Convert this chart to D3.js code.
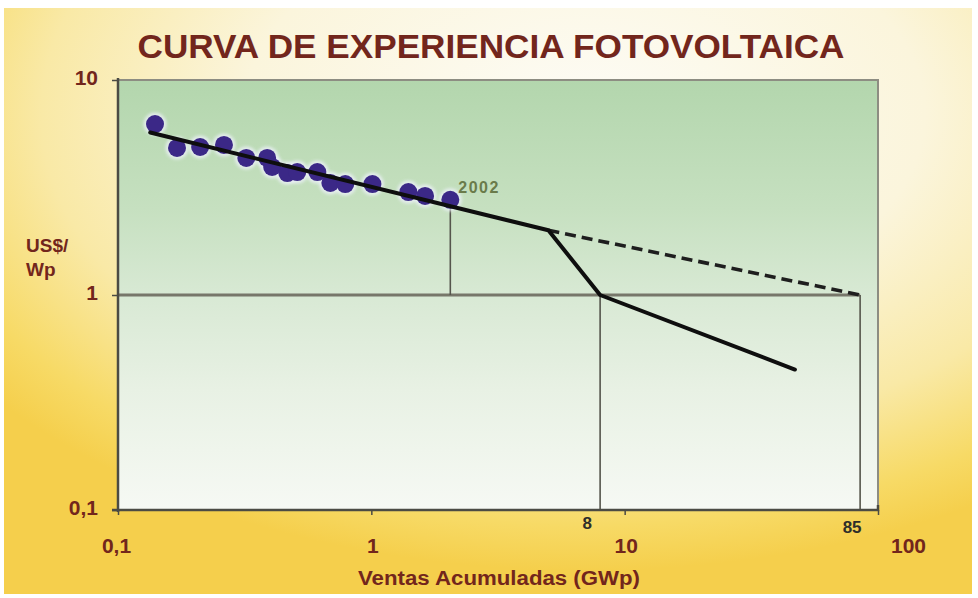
<!DOCTYPE html>
<html>
<head>
<meta charset="utf-8">
<script src="https://cdn.jsdelivr.net/npm/d3@7"></script>
<style>
  html, body { margin: 0; padding: 0; background: #ffffff; }
  svg { display: block; }
  text { font-family: "Liberation Sans", Arial, sans-serif; }
</style>
</head>
<body>
<svg id="chart" width="978" height="598"></svg>
<script>
// Ventas acumuladas (GWp) y precio del módulo (US$/Wp), datos históricos hasta 2002
const ventas  = [0.14, 0.171, 0.211, 0.262, 0.321, 0.388, 0.406, 0.466, 0.51, 0.612, 0.689, 0.789, 1.01, 1.40, 1.63, 2.05];
const precios = [6.24, 4.83, 4.88, 4.99, 4.34, 4.34, 3.94, 3.69, 3.73, 3.73, 3.32, 3.28, 3.28, 3.01, 2.89, 2.77];

// Recta de aprendizaje ajustada a los datos
const ajusteVentas  = [0.134, 5];
const ajustePrecios = [5.7, 2];
// Escenario con salto tecnológico (llega a 1 US$/Wp con 8 GWp)
const saltoVentas  = [5, 8, 47];
const saltoPrecios = [2, 1, 0.45];
// Escenario sin salto (llega a 1 US$/Wp con 85 GWp)
const tendVentas  = [5, 85];
const tendPrecios = [2, 1];

const anioFinal = "2002";
const xTicks = [0.1, 1, 10, 100];
const yTicks = [0.1, 1, 10];
const marcasX = [8, 85];
const titulo = "CURVA DE EXPERIENCIA FOTOVOLTAICA";
const tituloX = "Ventas Acumuladas (GWp)";
const tituloY = ["US$/", "Wp"];

const svg = d3.select("#chart");
const W = 978, H = 598;
const plot = { left: 118, right: 878, top: 80, bottom: 510 };

const x = d3.scaleLog().domain([0.1, 100]).range([plot.left, plot.right]);
const y = d3.scaleLog().domain([0.1, 10]).range([plot.bottom, plot.top]);
const fmt = d3.formatLocale({ decimal: ",", thousands: ".", grouping: [3], currency: ["", ""] }).format("~g");

const defs = svg.append("defs");
const bg = defs.append("radialGradient").attr("id", "fondo")
  .attr("cx", 0.6).attr("cy", 0.18).attr("r", 0.78);
[[0, "#fdfcf6"], [0.45, "#fbf5dc"], [0.72, "#f9e9a6"], [0.9, "#f7da66"], [1, "#f5cf4c"]]
  .forEach(([o, c]) => bg.append("stop").attr("offset", o).attr("stop-color", c));

const pg = defs.append("linearGradient").attr("id", "area")
  .attr("x1", 0).attr("y1", 0).attr("x2", 0).attr("y2", 1);
[[0, "#b3d6ad"], [0.3, "#c6e0c0"], [0.5, "#d8e9d4"], [0.72, "#e8f1e4"], [1, "#f6f9f4"]]
  .forEach(([o, c]) => pg.append("stop").attr("offset", o).attr("stop-color", c));

const glow = defs.append("filter").attr("id", "halo").attr("x", "-50%").attr("y", "-50%").attr("width", "200%").attr("height", "200%");
glow.append("feGaussianBlur").attr("stdDeviation", 1.6);

// Fondo de la figura
svg.append("rect").attr("x", 4).attr("y", 8).attr("width", W - 10).attr("height", H - 12)
  .attr("fill", "url(#fondo)");

// Área de trazado
svg.append("rect")
  .attr("x", plot.left).attr("y", plot.top)
  .attr("width", plot.right - plot.left).attr("height", plot.bottom - plot.top)
  .attr("fill", "url(#area)");
svg.append("path")
  .attr("d", `M${plot.left},${plot.top}H${plot.right}V${plot.bottom}`)
  .attr("fill", "none").attr("stroke", "#8d8d82").attr("stroke-width", 2);

// Título
svg.append("text")
  .attr("x", 491).attr("y", 58)
  .attr("text-anchor", "middle")
  .attr("textLength", 707).attr("lengthAdjust", "spacingAndGlyphs")
  .style("font-family", "'Liberation Sans Narrow', 'Arial Narrow', sans-serif")
  .style("font-weight", "bold").style("font-size", "34px")
  .attr("fill", "#72261c")
  .text(titulo);

// Líneas de referencia
const ref = svg.append("g").attr("stroke", "#55554c").attr("fill", "none");
ref.append("line")
  .attr("x1", x(0.1)).attr("x2", x(85)).attr("y1", y(1)).attr("y2", y(1))
  .attr("stroke", "#77776a").attr("stroke-width", 3);

// precio sobre la recta ajustada en la última venta registrada
const ultV = ventas[ventas.length - 1];
const t = (Math.log(ultV) - Math.log(ajusteVentas[0])) / (Math.log(ajusteVentas[1]) - Math.log(ajusteVentas[0]));
const pAjuste = Math.exp(Math.log(ajustePrecios[0]) + t * (Math.log(ajustePrecios[1]) - Math.log(ajustePrecios[0])));
ref.append("line")
  .attr("x1", x(ultV)).attr("x2", x(ultV)).attr("y1", y(pAjuste)).attr("y2", y(1))
  .attr("stroke-width", 1.6);
marcasX.forEach(v => {
  ref.append("line")
    .attr("x1", x(v)).attr("x2", x(v)).attr("y1", y(1)).attr("y2", y(0.1))
    .attr("stroke-width", 1.6);
});

// Puntos históricos
const pts = ventas.map((v, i) => ({ v, p: precios[i] }));
svg.append("g").selectAll("circle").data(pts).join("circle")
  .attr("cx", d => x(d.v)).attr("cy", d => y(d.p)).attr("r", 11.5)
  .attr("fill", "#eef2fb").attr("opacity", 0.75).attr("filter", "url(#halo)");
svg.append("g").selectAll("circle").data(pts).join("circle")
  .attr("cx", d => x(d.v)).attr("cy", d => y(d.p)).attr("r", 9)
  .attr("fill", "#3b2887");

// Curvas
const linea = d3.line().x(d => x(d[0])).y(d => y(d[1]));
svg.append("path")
  .attr("d", linea(tendVentas.map((v, i) => [v, tendPrecios[i]])))
  .attr("fill", "none").attr("stroke", "#1e1e1e").attr("stroke-width", 3.6)
  .attr("stroke-dasharray", "11,6");
svg.append("path")
  .attr("d", linea(ajusteVentas.map((v, i) => [v, ajustePrecios[i]]).concat(saltoVentas.slice(1).map((v, i) => [v, saltoPrecios[i + 1]]))))
  .attr("fill", "none").attr("stroke", "#0e0e0e").attr("stroke-width", 4)
  .attr("stroke-linejoin", "round").attr("stroke-linecap", "round");

// Etiqueta del año
svg.append("text")
  .attr("x", x(ultV) + 8).attr("y", 193)
  .style("font-weight", "bold").style("font-size", "16px").style("letter-spacing", "1.5px")
  .attr("fill", "#6a7b4a")
  .text(anioFinal);

// Ejes
const ejeX = svg.append("g").attr("transform", `translate(0,${plot.bottom})`)
  .call(d3.axisBottom(x).tickValues(xTicks).tickFormat(fmt).tickSize(5).tickPadding(23));
ejeX.select(".domain").attr("d", `M${plot.left - 6},0H${plot.right}V-5`)
  .attr("stroke", "#4b4b44").attr("stroke-width", 2.5);
ejeX.selectAll(".tick line").attr("stroke", "#4b4b44").attr("stroke-width", 1.5);
ejeX.selectAll(".tick text")
  .style("font-family", "'Liberation Sans', Arial, sans-serif")
  .style("font-weight", "bold").style("font-size", "21px")
  .attr("fill", "#72261c")
  .attr("dx", d => d === 100 ? 30 : (d === 0.1 ? -2 : 1));

const ejeY = svg.append("g").attr("transform", `translate(${plot.left},0)`)
  .call(d3.axisLeft(y).tickValues(yTicks).tickFormat(fmt).tickSize(6).tickPadding(14));
ejeY.select(".domain").attr("d", `M0,${plot.top - 2}V${plot.bottom + 2}`)
  .attr("stroke", "#4b4b44").attr("stroke-width", 2.5);
ejeY.selectAll(".tick line").attr("stroke", "#4b4b44").attr("stroke-width", 1.5);
ejeY.selectAll(".tick text")
  .style("font-weight", "bold").style("font-size", "21px")
  .attr("fill", "#72261c").attr("dy", "0.2em");

// Valores marcados en el eje X
svg.append("g").selectAll("text").data(marcasX).join("text")
  .attr("x", d => x(d) - (d < 10 ? 13 : 8)).attr("y", d => d < 10 ? 529 : 533)
  .attr("text-anchor", "middle")
  .style("font-family", "'Liberation Sans Narrow', 'Arial Narrow', sans-serif")
  .style("font-weight", "bold").style("font-size", "17px")
  .attr("fill", "#2e2e2a")
  .text(d => d);

// Títulos de los ejes
svg.append("text")
  .attr("x", 499).attr("y", 585).attr("text-anchor", "middle")
  .attr("textLength", 282).attr("lengthAdjust", "spacingAndGlyphs")
  .style("font-weight", "bold").style("font-size", "20px")
  .attr("fill", "#72261c")
  .text(tituloX);
svg.append("g").selectAll("text").data(tituloY).join("text")
  .attr("x", 26).attr("y", (d, i) => 252 + i * 24)
  .style("font-weight", "bold").style("font-size", "19px")
  .attr("fill", "#72261c")
  .text(d => d);
</script>
</body>
</html>
